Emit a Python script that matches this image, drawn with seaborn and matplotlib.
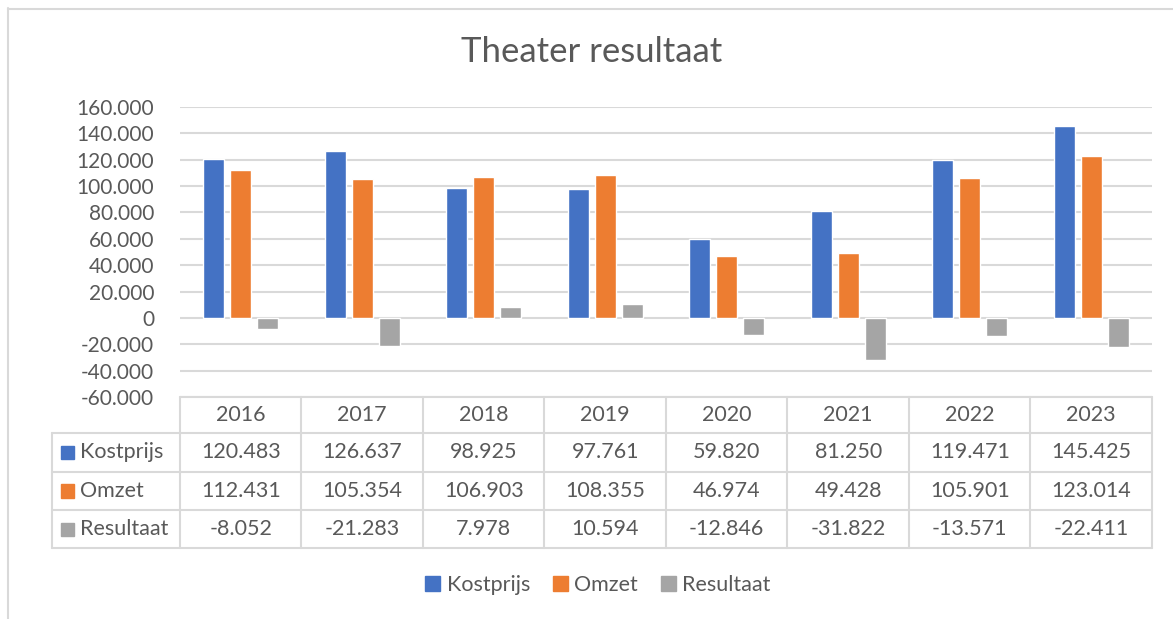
import pandas as pd
import matplotlib.pyplot as plt
import matplotlib.patches as mpatches
from matplotlib.lines import Line2D
from matplotlib.ticker import FuncFormatter, MultipleLocator
import seaborn as sns

# ------------------------------ data ------------------------------
jaren = ["2016", "2017", "2018", "2019", "2020", "2021", "2022", "2023"]
kostprijs = [120483, 126637, 98925, 97761, 59820, 81250, 119471, 145425]
omzet = [112431, 105354, 106903, 108355, 46974, 49428, 105901, 123014]
resultaat = [-8052, -21283, 7978, 10594, -12846, -31822, -13571, -22411]
reeksen = ["Kostprijs", "Omzet", "Resultaat"]
kleuren = ["#4472C4", "#ED7D31", "#A5A5A5"]

TEXT = "#595959"
GRID = "#D9D9D9"
W, H = 1173, 619
FS = 15.5

sns.set_theme(style="white")
plt.rcParams["font.family"] = ["Lato", "DejaVu Sans"]


def nl(v, pos=None):
    # dutch thousands separator
    return f"{int(round(v)):,}".replace(",", ".")


df = pd.DataFrame({"Jaar": jaren * 3,
                   "Reeks": [r for r in reeksen for _ in jaren],
                   "Waarde": kostprijs + omzet + resultaat})

fig = plt.figure(figsize=(W / 100, H / 100), dpi=100)

# ------------------------------ bars ------------------------------
ax = fig.add_axes([180 / W, 1 - 397 / H, 972 / W, 290 / H])
sns.barplot(data=df, x="Jaar", y="Waarde", hue="Reeks", palette=kleuren,
            width=0.667, gap=0.22, saturation=1, legend=False, ax=ax)
ax.set_xlim(-0.5, 7.5)
ax.set_ylim(-60000, 160000)
ax.yaxis.set_major_locator(MultipleLocator(20000))
ax.yaxis.set_major_formatter(FuncFormatter(nl))
ax.grid(axis="y", color=GRID, lw=1.5)
ax.set_axisbelow(True)
ax.tick_params(axis="y", labelsize=15, labelcolor=TEXT, length=0, pad=18.5)
ax.tick_params(axis="x", bottom=False, labelbottom=False)
ax.set_xlabel("")
ax.set_ylabel("")
for s in ax.spines.values():
    s.set_visible(False)

fig.text(592 / W, 1 - 52 / H, "Theater resultaat", ha="center", va="center",
         fontsize=25, color=TEXT)

# ------------------------------ data table ------------------------------
lab_left = -0.5 - 128 / 121.5
tab = fig.add_axes([52 / W, 1 - 548 / H, 1100 / W, 151 / H])
tab.set_xlim(lab_left, 7.5)
tab.set_ylim(548, 397)
tab.axis("off")
rows = [397, 433, 471.5, 510, 548]
lw_tab = 1.5

tab.plot([-0.5, 7.5], [rows[0]] * 2, color=GRID, lw=lw_tab, clip_on=False)
for y in rows[1:]:
    tab.plot([lab_left, 7.5], [y, y], color=GRID, lw=lw_tab, clip_on=False)
for i in range(len(jaren) + 1):
    tab.plot([i - 0.5] * 2, [rows[0], rows[-1]], color=GRID, lw=lw_tab, clip_on=False)
tab.plot([lab_left] * 2, [rows[1], rows[-1]], color=GRID, lw=lw_tab, clip_on=False)

for i, j in enumerate(jaren):
    tab.text(i, (rows[0] + rows[1]) / 2, j, ha="center", va="center",
             fontsize=FS, color=TEXT)

for r, (naam, kleur, vals) in enumerate(zip(reeksen, kleuren, [kostprijs, omzet, resultaat])):
    yc = (rows[r + 1] + rows[r + 2]) / 2
    sq = 13.5 / 121.5
    tab.add_patch(mpatches.Rectangle((lab_left + 9 / 121.5, yc - 6.5), sq, 13.5,
                                     color=kleur, clip_on=False))
    tab.text(lab_left + 28 / 121.5, yc, naam, ha="left", va="center",
             fontsize=FS, color=TEXT)
    for i, v in enumerate(vals):
        tab.text(i, yc, nl(v), ha="center", va="center", fontsize=FS, color=TEXT)

# ------------------------------ legend ------------------------------
handles = [mpatches.Patch(color=k, label=n) for n, k in zip(reeksen, kleuren)]
fig.legend(handles=handles, loc="center", bbox_to_anchor=(598 / W, 1 - 585 / H),
           ncol=3, frameon=False, fontsize=FS, labelcolor=TEXT,
           handlelength=0.7, handleheight=0.7, handletextpad=0.3,
           columnspacing=1.05)

# chart border (left and top)
fig.add_artist(Line2D([7.5 / W, 7.5 / W], [0, 1 - 8 / H], color=GRID, lw=1.5))
fig.add_artist(Line2D([7.5 / W, 1], [1 - 8.5 / H, 1 - 8.5 / H], color=GRID, lw=1.5))

fig.savefig("out.png", dpi=100)
